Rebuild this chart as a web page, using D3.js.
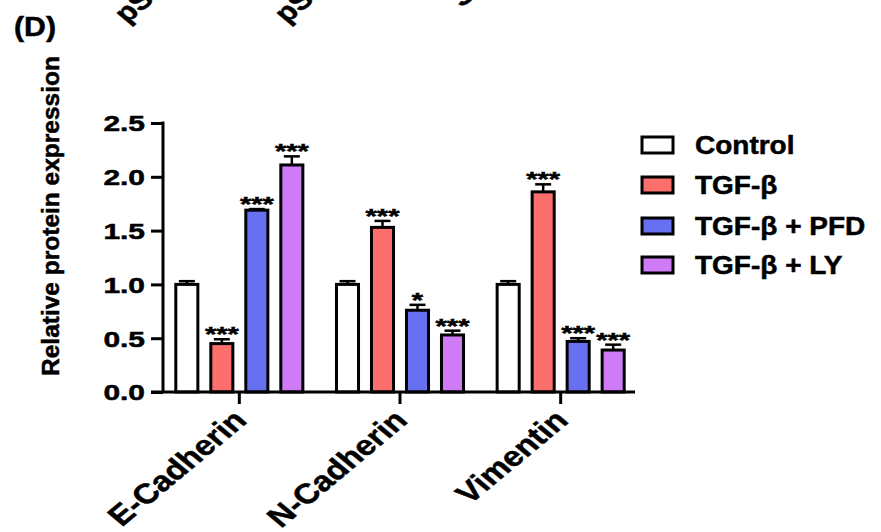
<!DOCTYPE html>
<html>
<head>
<meta charset="utf-8">
<script src="https://cdn.jsdelivr.net/npm/d3@7"></script>
<style>
  html, body { margin: 0; padding: 0; background: #fff; }
  svg { display: block; }
  text { font-family: "Liberation Sans", Arial, Helvetica, sans-serif; font-weight: bold; fill: #000; stroke: #000; stroke-width: 0.5; }
</style>
</head>
<body>
<svg id="chart" width="881" height="532"></svg>
<script>
// Protein markers along the x axis
const categories = ["E-Cadherin", "N-Cadherin", "Vimentin"];
// Treatment groups
const groups = ["Control", "TGF-β", "TGF-β + PFD", "TGF-β + LY"];
// Mean relative expression per group, one entry per marker
const controlVals = [1.00, 1.00, 1.00];
const tgfVals     = [0.45, 1.53, 1.86];
const pfdVals     = [1.69, 0.76, 0.47];
const lyVals      = [2.11, 0.53, 0.39];
// Upper error (SD) per group
const controlErr = [0.03, 0.03, 0.03];
const tgfErr     = [0.04, 0.06, 0.07];
const pfdErr     = [0.01, 0.05, 0.03];
const lyErr      = [0.08, 0.04, 0.05];
// Significance marks
const controlSig = ["", "", ""];
const tgfSig     = ["***", "***", "***"];
const pfdSig     = ["***", "*", "***"];
const lySig      = ["***", "***", "***"];
// Y axis ticks
const yTicks = [0.0, 0.5, 1.0, 1.5, 2.0, 2.5];
const yTickLabels = ["0.0", "0.5", "1.0", "1.5", "2.0", "2.5"];
// Labels of the panel above, cut by the top edge
const upperLabels = ["pSmad2", "pSmad3", "Smad7"];

const values = [controlVals, tgfVals, pfdVals, lyVals];
const errors = [controlErr, tgfErr, pfdErr, lyErr];
const sigs = [controlSig, tgfSig, pfdSig, lySig];
const fills = ["#ffffff", "#fb6f6c", "#6670f0", "#cf7bf5"];

const svg = d3.select("#chart");
svg.append("rect").attr("width", 881).attr("height", 532).attr("fill", "#fff");

const axisX = 163, baseY = 392, xEnd = 635;

const y = d3.scaleLinear().domain([0, 2.5]).range([baseY, 123]);
const x0 = d3.scaleBand().domain(categories).range([159, 641]);
const x1 = d3.scaleBand().domain(groups).range([-70, 70]).paddingInner(0.37).paddingOuter(0.185);

const table = [];
categories.forEach((c, ci) => {
  groups.forEach((g, gi) => {
    table.push({ cat: c, grp: g, gi, v: values[gi][ci], e: errors[gi][ci], s: sigs[gi][ci] });
  });
});

const cx = d => x0(d.cat) + x0.bandwidth() / 2 + x1(d.grp) + x1.bandwidth() / 2;

// error whiskers (drawn under the bars so only the upper half shows)
const eb = svg.append("g").attr("stroke", "#000").attr("stroke-width", 2.5);
table.forEach(d => {
  const xc = cx(d);
  eb.append("line").attr("x1", xc).attr("x2", xc).attr("y1", y(d.v)).attr("y2", y(d.v + d.e));
  eb.append("line").attr("x1", xc - 8).attr("x2", xc + 8).attr("y1", y(d.v + d.e)).attr("y2", y(d.v + d.e));
});

// bars
svg.append("g").selectAll("rect").data(table).join("rect")
  .attr("x", d => cx(d) - x1.bandwidth() / 2)
  .attr("width", x1.bandwidth())
  .attr("y", d => y(d.v))
  .attr("height", d => baseY - y(d.v))
  .attr("fill", d => fills[d.gi])
  .attr("stroke", "#000")
  .attr("stroke-width", 3);

// significance asterisks
svg.append("g").selectAll("text").data(table.filter(d => d.s)).join("text")
  .attr("text-anchor", "middle")
  .attr("font-size", 20)
  .attr("transform", d => `translate(${cx(d)},${y(d.v + d.e) + 2}) scale(1.45,1)`)
  .text(d => d.s);

// y axis
const yAxis = svg.append("g").attr("transform", `translate(${axisX},0)`)
  .call(d3.axisLeft(y).tickValues(yTicks).tickSize(12).tickPadding(0).tickSizeOuter(0)
    .tickFormat((d, i) => yTickLabels[i]));
yAxis.select(".domain").attr("stroke-width", 3).attr("d", `M0,${y(2.5) - 1.5}V${baseY}`);
yAxis.selectAll(".tick line").attr("stroke-width", 3);
yAxis.selectAll(".tick text").remove();
yAxis.selectAll(".tick").append("text")
  .attr("text-anchor", "end")
  .attr("font-size", 22)
  .attr("dy", "0.36em")
  .attr("transform", "translate(-18,0) scale(1.36,1)")
  .text((d, i) => yTickLabels[i]);

// x axis
const xAxis = svg.append("g").attr("transform", `translate(0,${baseY})`)
  .call(d3.axisBottom(x0).tickSize(12).tickSizeOuter(0).tickFormat(""));
xAxis.select(".domain").attr("stroke-width", 3).attr("d", `M${axisX - 12},0H${xEnd}`);
xAxis.selectAll(".tick line").attr("stroke-width", 3);
xAxis.selectAll(".tick").append("text")
  .attr("text-anchor", "end")
  .attr("font-size", 28)
  .attr("transform", "translate(9,30) scale(1.2,1) rotate(-45)")
  .text(d => d);

// y axis title
svg.append("text")
  .attr("text-anchor", "middle")
  .attr("font-size", 24.5)
  .attr("transform", "translate(59,216) rotate(-90)")
  .text("Relative protein expression");

// panel letter
svg.append("text").attr("font-size", 27)
  .attr("transform", "translate(14,36) scale(1.12,1)").text("(D)");

// labels of the panel above, clipped by the top edge
const upperPos = [[127, 24], [287, 24], [462, 8]];
svg.append("g").selectAll("text").data(upperLabels).join("text")
  .attr("font-size", 26)
  .attr("transform", (d, i) => `translate(${upperPos[i][0]},${upperPos[i][1]}) scale(1.2,1) rotate(-45)`)
  .text(d => d);

// legend
const lg = svg.append("g");
const rowY = [145, 185, 226, 265];
groups.forEach((g, i) => {
  lg.append("rect").attr("x", 642).attr("y", rowY[i] - 8).attr("width", 31).attr("height", 16)
    .attr("fill", fills[i]).attr("stroke", "#000").attr("stroke-width", 3);
  lg.append("text").attr("font-size", 25)
    .attr("transform", `translate(695,${rowY[i] + 9}) scale(1.12,1)`)
    .text(g);
});
</script>
</body>
</html>
